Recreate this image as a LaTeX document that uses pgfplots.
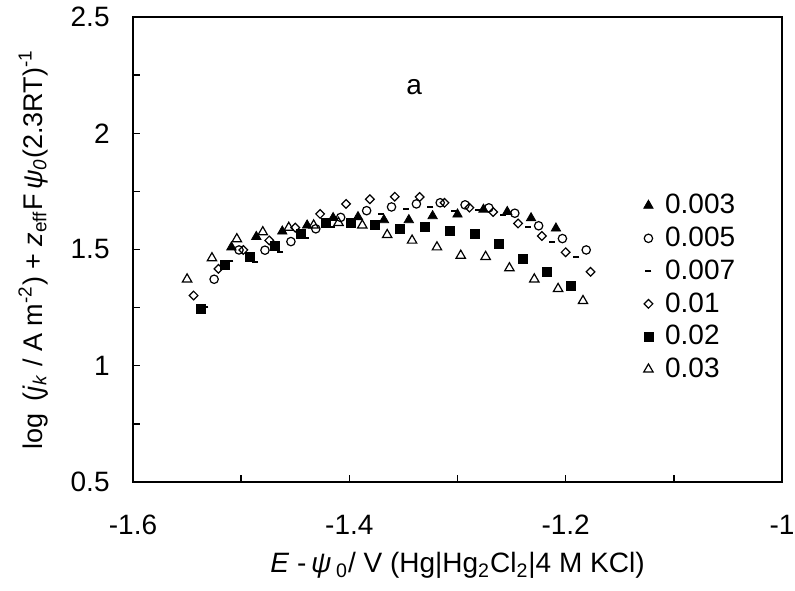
\documentclass[border=0pt]{standalone}
\usepackage{fontspec}
\setmainfont{Liberation Sans}
\usepackage{pgfplots}
\pgfplotsset{compat=1.18}
\newcommand{\fs}{\fontsize{14}{16.5}\selectfont}
\begin{document}
\begin{tikzpicture}[font=\fs]
\begin{axis}[
  scale only axis, width=324.5pt, height=232.5pt,
  xmin=-1.6, xmax=-1.0, ymin=0.5, ymax=2.5,
  axis line style={line width=0.9pt},
  tick align=inside, tick pos=left,
  major tick length=3.3pt,
  every tick/.style={black, line width=0.7pt},
  xtick={-1.6,-1.5,-1.4,-1.3,-1.2,-1.1,-1.0},
  xticklabels={-1.6,,-1.4,,-1.2,,-1},
  ytick={0.5,0.75,1,1.25,1.5,1.75,2,2.25,2.5},
  yticklabels={0.5,,1,,1.5,,2,,2.5},
  tick label style={font=\fs},
  xticklabel style={anchor=north, inner sep=0pt, yshift=-16.5pt},
  yticklabel style={anchor=east, inner sep=0pt, xshift=-11.5pt},
  label style={font=\fs},
  xlabel={\textit{E} -\,\textit{ψ}\,\textsubscript{0}/ V (Hg|Hg\textsubscript{2}Cl\textsubscript{2}|4 M KCl)},
  ylabel={log\, (\textit{j}\textsubscript{\textit{k}} / A m\textsuperscript{-2}) + \textit{z}\textsubscript{eff}F\,\textit{ψ}\textsubscript{\textit{0}}(2.3RT)\textsuperscript{-1}},
  xlabel style={at={(axis description cs:0.5,-0.1957)}, anchor=base, inner sep=0pt},
  ylabel style={at={(axis description cs:-0.1402,0.5)}, anchor=base, inner sep=0pt, font=\fontsize{13.5}{16}\selectfont},
  legend style={draw=none, fill=none, inner sep=0pt, outer sep=0pt,
    at={(axis cs:-1.1278,1.7374)}, anchor=north west, row sep=5.1pt,
    nodes={inner sep=0pt}, font=\fs,
    /tikz/every odd column/.append style={column sep=6pt}},
  legend cell align=left,
  legend image code/.code={\draw[mark repeat=2,mark phase=2,#1] plot coordinates {(-3pt,0pt)(0pt,0pt)(3pt,0pt)};},
]
\coordinate (bl) at (axis description cs:-0.20493,-0.23441);
\coordinate (tr) at (axis description cs:1.02003,1.03656);

\addplot[only marks, mark=triangle*, mark size=2.7pt, mark options={draw=black, fill=black, line width=0.4pt}] table {
-1.509 1.510
-1.486 1.555
-1.462 1.578
-1.439 1.604
-1.415 1.636
-1.392 1.640
-1.368 1.627
-1.345 1.627
-1.323 1.644
-1.300 1.651
-1.276 1.672
-1.254 1.662
-1.232 1.635
-1.209 1.591
};
\addlegendentry{0.003}

\addplot[only marks, mark=o, mark size=2.1pt, mark options={draw=black, fill=none, line width=0.6pt}] table {
-1.525 1.372
-1.502 1.498
-1.478 1.497
-1.454 1.534
-1.431 1.589
-1.408 1.638
-1.384 1.667
-1.361 1.683
-1.338 1.696
-1.316 1.701
-1.293 1.692
-1.271 1.679
-1.247 1.656
-1.225 1.602
-1.203 1.547
-1.181 1.498
};
\addlegendentry{0.005}

\addplot[only marks, mark=-, mark size=1.5pt, mark options={draw=black, line width=1pt}] table {
-1.533 1.251
-1.510 1.452
-1.487 1.448
-1.464 1.489
-1.440 1.548
-1.416 1.598
-1.393 1.630
-1.371 1.653
-1.348 1.673
-1.325 1.682
-1.303 1.666
-1.281 1.668
-1.258 1.650
-1.235 1.595
-1.213 1.532
-1.190 1.468
};
\addlegendentry{0.007}

\addplot[only marks, mark=square, mark size=1.53pt, mark options={rotate=45, draw=black, fill=none, line width=0.6pt}] table {
-1.544 1.302
-1.521 1.417
-1.498 1.498
-1.474 1.539
-1.450 1.594
-1.427 1.653
-1.403 1.696
-1.381 1.716
-1.358 1.727
-1.335 1.726
-1.312 1.701
-1.289 1.680
-1.267 1.661
-1.244 1.612
-1.222 1.558
-1.200 1.488
-1.177 1.404
};
\addlegendentry{0.01}

\addplot[only marks, mark=square*, mark size=2.25pt, mark options={draw=black, fill=black, line width=0.4pt}] table {
-1.537 1.245
-1.515 1.432
-1.492 1.466
-1.469 1.515
-1.445 1.567
-1.422 1.615
-1.399 1.615
-1.376 1.604
-1.353 1.589
-1.330 1.596
-1.307 1.580
-1.284 1.567
-1.262 1.526
-1.240 1.459
-1.217 1.404
-1.195 1.343
};
\addlegendentry{0.02}

\addplot[only marks, mark=triangle, mark size=2.7pt, mark options={draw=black, fill=none, line width=0.6pt}] table {
-1.550 1.372
-1.527 1.463
-1.504 1.545
-1.480 1.575
-1.456 1.594
-1.433 1.604
-1.410 1.615
-1.388 1.604
-1.365 1.563
-1.342 1.539
-1.319 1.510
-1.297 1.474
-1.274 1.469
-1.252 1.420
-1.229 1.372
-1.207 1.331
-1.184 1.279
};
\addlegendentry{0.03}

\node[font=\fontsize{14}{16}\selectfont] at (axis cs:-1.340,2.197) {a};
\end{axis}
\pgfresetboundingbox
\path[use as bounding box] (bl) rectangle (tr);
\end{tikzpicture}
\end{document}
